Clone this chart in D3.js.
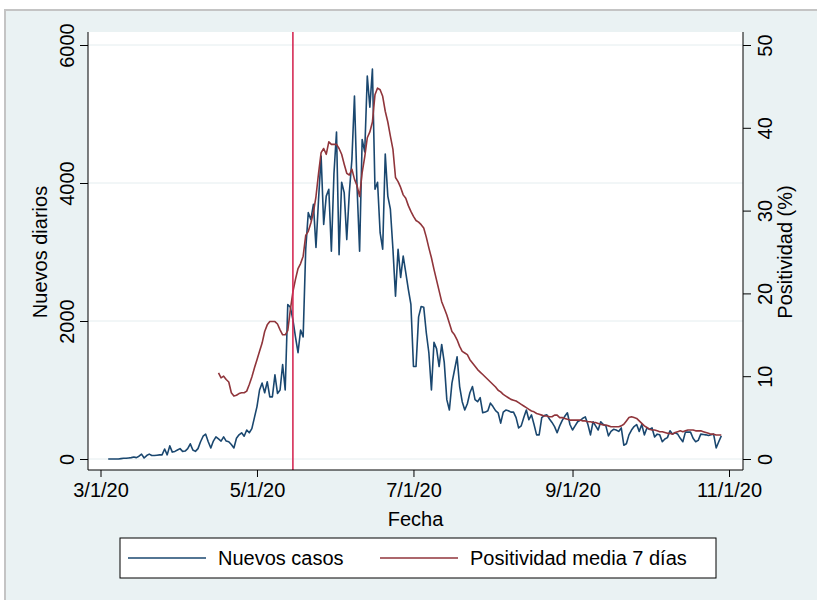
<!DOCTYPE html>
<html>
<head>
<meta charset="utf-8">
<script src="https://cdnjs.cloudflare.com/ajax/libs/d3/7.8.5/d3.min.js"></script>
<style>
  body { margin: 0; background: #ffffff; }
  svg { display: block; font-family: "Liberation Sans", Arial, sans-serif; }
</style>
</head>
<body>
<div id="chart"></div>
<script>
// daily new cases, starting 2020-03-04
const casesStart = "2020-03-04";
const cases = [
  0,0,0,0,0,5,10,10,15,20,
  30,20,40,70,15,50,70,50,50,55,
  60,60,145,60,190,100,110,130,150,110,
  115,150,220,130,110,150,250,330,360,250,
  160,260,320,290,260,320,260,250,210,160,
  300,350,380,330,420,380,440,600,760,1000,
  1100,960,1120,900,900,1220,950,1000,1370,1000,
  2240,2200,2020,1770,1540,1870,1770,3040,3570,3470,
  3690,3065,3760,4390,3400,3810,3910,3010,4130,4740,
  2960,4010,3860,3180,3860,4340,5260,3950,3010,4630,
  4450,5550,5100,5650,3910,4010,3280,3040,4420,3810,
  3620,3040,2360,3040,2630,2940,2700,2460,2240,1340,
  1340,2060,2210,2200,1830,1540,1000,1690,1600,1340,
  1660,1400,860,710,1100,1290,1480,1050,830,710,
  800,960,1050,860,830,890,670,680,700,810,
  760,700,670,520,680,710,700,680,680,600,
  450,480,600,710,570,640,500,350,350,600,
  630,640,580,530,470,380,480,560,620,670,
  500,420,480,540,560,590,610,500,350,540,
  480,420,540,500,480,335,400,430,420,400,
  450,200,220,350,420,470,500,400,500,350,
  450,430,450,320,360,350,250,290,310,410,
  360,380,360,300,250,390,390,390,300,250,
  270,360,355,350,340,350,360,160,250,335
];

// 7-day mean positivity (%), starting 2020-04-16
const positStart = "2020-04-16";
const posit = [
  10.4,9.8,10.0,9.6,9.3,8.0,7.6,7.7,7.9,8.0,
  8.0,8.2,9.0,9.9,11.0,12.0,13.0,14.0,15.4,16.2,
  16.6,16.6,16.6,16.3,15.6,15.0,15.0,15.5,18.0,20.2,
  21.7,23.0,23.6,24.5,27.0,27.5,28.5,29.8,31.7,34.5,
  37.0,37.5,36.8,38.3,38.0,38.0,38.0,37.5,36.8,35.6,
  34.5,34.3,35.0,33.8,33.0,31.7,34.6,36.5,38.8,39.5,
  40.7,44.0,44.8,44.6,43.8,42.0,40.7,39.0,37.4,34.0,
  33.5,32.8,31.9,31.5,30.6,29.9,29.3,28.8,28.6,28.3,
  27.9,26.8,25.5,24.3,22.9,21.6,20.3,19.0,18.2,17.4,
  16.4,15.4,15.0,14.4,13.6,13.0,12.8,12.6,12.0,11.6,
  11.2,10.8,10.5,10.2,9.9,9.6,9.3,9.0,8.7,8.3,
  8.1,7.8,7.6,7.4,7.2,7.1,7.0,6.8,6.6,6.4,
  6.2,6.0,5.8,5.7,5.5,5.4,5.3,5.2,5.2,5.1,
  5.1,5.3,5.3,5.0,5.0,4.9,4.8,4.7,4.7,4.7,
  4.7,4.7,4.6,4.6,4.5,4.5,4.4,4.4,4.3,4.2,
  4.1,4.1,4.0,3.9,3.9,3.9,3.9,4.0,4.2,4.6,
  5.0,5.1,5.0,4.9,4.6,4.3,4.0,3.8,3.6,3.5,
  3.5,3.4,3.3,3.3,3.2,3.1,3.1,3.0,3.2,3.3,
  3.4,3.3,3.4,3.5,3.5,3.5,3.4,3.4,3.4,3.3,
  3.2,3.1,3.0,3.0,2.9,2.9,2.9
];

const xTicks = ["2020-03-01", "2020-05-01", "2020-07-01", "2020-09-01", "2020-11-01"];
const yTicksLeft = [0, 2000, 4000, 6000];
const yTicksRight = [0, 10, 20, 30, 40, 50];
const markerDate = "2020-05-15";

const width = 817, height = 600;
const plot = {left: 88, right: 743, top: 32, bottom: 470};

const parse = d3.utcParse("%Y-%m-%d");
const fmt = d3.utcFormat("%-m/%-d/%y");

function daily(start, values) {
  const s = parse(start);
  return values.map((v, i) => ({date: d3.utcDay.offset(s, i), value: v}));
}
const casesData = daily(casesStart, cases);
const positData = daily(positStart, posit);

const svg = d3.select("#chart").append("svg")
    .attr("width", width)
    .attr("height", height);

// graph region
svg.append("rect")
    .attr("x", 5).attr("y", 10)
    .attr("width", width + 10).attr("height", height)
    .attr("fill", "#eaf2f3")
    .attr("stroke", "#c4c4c4")
    .attr("stroke-width", 2);

// plot region
svg.append("rect")
    .attr("x", plot.left).attr("y", plot.top)
    .attr("width", plot.right - plot.left).attr("height", plot.bottom - plot.top)
    .attr("fill", "#ffffff");

// scales
const x = d3.scaleUtc()
    .domain([parse("2020-03-01"), parse("2020-11-01")])
    .range([100.5, 729]);
const yL = d3.scaleLinear().domain([0, 6000]).range([459, 45]);
const yR = d3.scaleLinear().domain([0, 50]).range([459, 45]);

// gridlines
svg.append("g")
  .selectAll("line")
  .data(yTicksLeft)
  .enter().append("line")
    .attr("x1", plot.left).attr("x2", plot.right)
    .attr("y1", d => yL(d)).attr("y2", d => yL(d))
    .attr("stroke", "#e4edef")
    .attr("stroke-width", 1);

// series
const lineCases = d3.line().x(d => x(d.date)).y(d => yL(d.value));
const linePosit = d3.line().x(d => x(d.date)).y(d => yR(d.value));

svg.append("path")
    .datum(casesData)
    .attr("fill", "none")
    .attr("stroke", "#1a476f")
    .attr("stroke-width", 1.6)
    .attr("stroke-linejoin", "round")
    .attr("d", lineCases);

svg.append("path")
    .datum(positData)
    .attr("fill", "none")
    .attr("stroke", "#90353b")
    .attr("stroke-width", 1.6)
    .attr("stroke-linejoin", "round")
    .attr("d", linePosit);

// vertical marker line
svg.append("line")
    .attr("x1", x(parse(markerDate))).attr("x2", x(parse(markerDate)))
    .attr("y1", plot.top).attr("y2", plot.bottom)
    .attr("stroke", "#d52b55")
    .attr("stroke-width", 1.6);

const fontSize = 20;

// x axis
const xAxis = svg.append("g")
    .attr("transform", `translate(0,${plot.bottom})`)
    .call(d3.axisBottom(x).tickValues(xTicks.map(parse)).tickFormat(fmt).tickSize(7).tickPadding(6));
xAxis.select(".domain").attr("d", `M${plot.left},0H${plot.right}`).attr("stroke", "#000");
xAxis.selectAll("text").style("font-size", fontSize + "px").attr("fill", "#000");

// left y axis
const yAxisL = svg.append("g")
    .attr("transform", `translate(${plot.left},0)`)
    .call(d3.axisLeft(yL).tickValues(yTicksLeft).tickFormat(d3.format("d")).tickSize(8).tickPadding(6));
yAxisL.select(".domain").attr("d", `M0,${plot.top}V${plot.bottom}`).attr("stroke", "#000");
yAxisL.selectAll("text")
    .style("font-size", fontSize + "px").attr("fill", "#000")
    .attr("x", null).attr("dy", null)
    .attr("text-anchor", "middle")
    .attr("transform", "translate(-14,0) rotate(-90)");

// right y axis
const yAxisR = svg.append("g")
    .attr("transform", `translate(${plot.right},0)`)
    .call(d3.axisRight(yR).tickValues(yTicksRight).tickSize(8).tickPadding(6));
yAxisR.select(".domain").attr("d", `M0,${plot.top}V${plot.bottom}`).attr("stroke", "#000");
yAxisR.selectAll("text")
    .style("font-size", fontSize + "px").attr("fill", "#000")
    .attr("x", null).attr("dy", null)
    .attr("text-anchor", "middle")
    .attr("transform", "translate(29,0) rotate(-90)");

// axis titles
svg.append("text")
    .attr("transform", `translate(47,${(yL(0) + yL(6000)) / 2}) rotate(-90)`)
    .attr("text-anchor", "middle")
    .style("font-size", fontSize + "px")
    .text("Nuevos diarios");

svg.append("text")
    .attr("transform", `translate(792,${(yR(0) + yR(50)) / 2}) rotate(-90)`)
    .attr("text-anchor", "middle")
    .style("font-size", fontSize + "px")
    .text("Positividad (%)");

svg.append("text")
    .attr("x", (plot.left + plot.right) / 2)
    .attr("y", 526)
    .attr("text-anchor", "middle")
    .style("font-size", fontSize + "px")
    .text("Fecha");

// legend
const legend = svg.append("g").attr("transform", "translate(120,538)");
legend.append("rect")
    .attr("width", 596).attr("height", 40)
    .attr("fill", "#fff").attr("stroke", "#000").attr("stroke-width", 1);

const items = [
  {label: "Nuevos casos", color: "#1a476f", x: 8},
  {label: "Positividad media 7 días", color: "#90353b", x: 260}
];
items.forEach(it => {
  legend.append("line")
      .attr("x1", it.x).attr("x2", it.x + 78)
      .attr("y1", 20).attr("y2", 20)
      .attr("stroke", it.color).attr("stroke-width", 1.6);
  legend.append("text")
      .attr("x", it.x + 90).attr("y", 27)
      .style("font-size", fontSize + "px")
      .text(it.label);
});
</script>
</body>
</html>
